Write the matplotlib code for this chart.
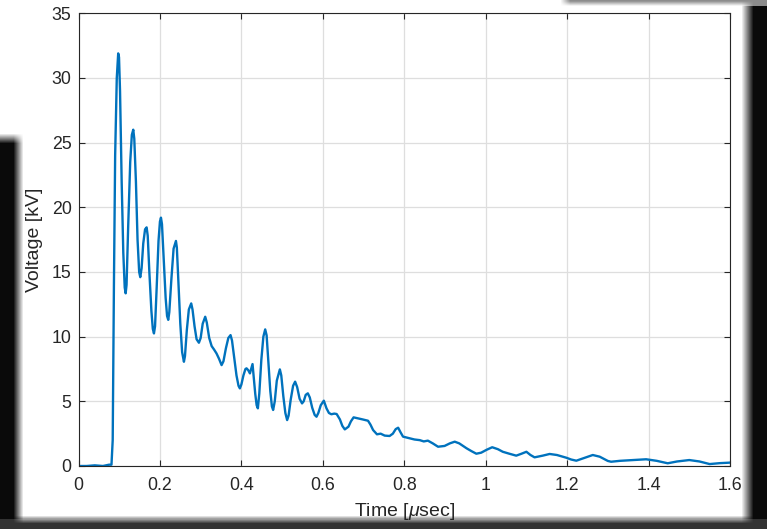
import numpy as np
import matplotlib
matplotlib.use('Agg')
import matplotlib.pyplot as plt

# Impulse voltage record, time in microseconds, voltage in kV
tiempo = [0.0, 0.02, 0.04, 0.06, 0.075, 0.081, 0.084, 0.087, 0.090, 0.094,
          0.0975, 0.0995, 0.102, 0.106, 0.110, 0.1135, 0.1158, 0.118, 0.122, 0.127,
          0.131, 0.1345, 0.137, 0.141, 0.145, 0.149, 0.1517, 0.155, 0.159, 0.1635,
          0.1673, 0.170, 0.174, 0.179, 0.1825, 0.1853, 0.188, 0.192, 0.1965, 0.200,
          0.2025, 0.205, 0.209, 0.214, 0.2175, 0.2204, 0.223, 0.228, 0.2335, 0.2393,
          0.2415, 0.245, 0.250, 0.2545, 0.2589, 0.2615, 0.266, 0.271, 0.2768, 0.280,
          0.285, 0.290, 0.2957, 0.300, 0.305, 0.3112, 0.315, 0.321, 0.327, 0.333,
          0.339, 0.345, 0.3514, 0.356, 0.362, 0.368, 0.3734, 0.377, 0.382, 0.388,
          0.393, 0.3963, 0.400, 0.405, 0.410, 0.4127, 0.417, 0.421, 0.424, 0.4274,
          0.430, 0.434, 0.4375, 0.4405, 0.444, 0.449, 0.454, 0.4585, 0.462, 0.466,
          0.471, 0.475, 0.478, 0.482, 0.487, 0.4945, 0.498, 0.503, 0.508, 0.5124,
          0.516, 0.521, 0.527, 0.532, 0.537, 0.543, 0.549, 0.553, 0.558, 0.5632,
          0.568, 0.574, 0.580, 0.5845, 0.589, 0.595, 0.6025, 0.609, 0.615, 0.621,
          0.628, 0.634, 0.642, 0.648, 0.654, 0.663, 0.669, 0.6756, 0.687, 0.698,
          0.711, 0.717, 0.7235, 0.733, 0.742, 0.752, 0.764, 0.772, 0.779, 0.785,
          0.791, 0.797, 0.8135, 0.825, 0.838, 0.848, 0.858, 0.870, 0.883, 0.899,
          0.912, 0.924, 0.935, 0.953, 0.965, 0.977, 0.989, 1.002, 1.016, 1.030,
          1.042, 1.058, 1.075, 1.088, 1.100, 1.110, 1.120, 1.140, 1.157, 1.175,
          1.198, 1.210, 1.2226, 1.240, 1.263, 1.280, 1.300, 1.308, 1.330, 1.3615,
          1.394, 1.420, 1.447, 1.470, 1.500, 1.525, 1.550, 1.575, 1.600]

voltaje = [0.0, 0.0, 0.05, 0.0, 0.1, 0.1, 2.0, 14.0, 24.0, 30.0,
           31.9, 31.6, 29.0, 22.0, 16.5, 13.8, 13.35, 14.0, 18.5, 23.5,
           25.6, 26.0, 25.3, 22.0, 17.5, 15.0, 14.6, 15.3, 17.2, 18.3,
           18.45, 17.8, 15.0, 12.0, 10.6, 10.25, 10.8, 13.8, 17.4, 18.9,
           19.2, 18.7, 16.2, 13.0, 11.6, 11.3, 11.9, 14.4, 16.8, 17.4,
           16.9, 14.5, 11.0, 8.8, 8.06, 8.5, 10.5, 12.1, 12.57, 12.1,
           10.8, 9.8, 9.53, 9.9, 11.0, 11.54, 11.1, 9.9, 9.27, 9.0,
           8.7, 8.3, 7.8, 8.1, 9.1, 9.9, 10.12, 9.7, 8.5, 7.0,
           6.2, 6.0, 6.3, 7.0, 7.5, 7.55, 7.4, 7.16, 7.5, 7.88,
           7.0, 5.6, 4.7, 4.46, 5.6, 8.2, 10.0, 10.56, 10.1, 8.2,
           5.8, 4.6, 4.33, 5.0, 6.6, 7.47, 7.0, 5.4, 4.1, 3.55,
           3.9, 5.1, 6.2, 6.52, 6.1, 5.2, 4.84, 5.0, 5.5, 5.62,
           5.3, 4.5, 3.95, 3.81, 4.1, 4.7, 5.05, 4.46, 4.1, 4.0,
           4.05, 4.02, 3.6, 3.1, 2.83, 3.04, 3.45, 3.76, 3.68, 3.6,
           3.5, 3.2, 2.78, 2.45, 2.5, 2.35, 2.32, 2.5, 2.85, 2.96,
           2.6, 2.27, 2.14, 2.05, 2.0, 1.9, 1.96, 1.75, 1.49, 1.55,
           1.75, 1.88, 1.75, 1.37, 1.15, 0.95, 1.03, 1.25, 1.45, 1.3,
           1.1, 0.95, 0.8, 0.95, 1.1, 0.85, 0.67, 0.8, 0.93, 0.85,
           0.64, 0.5, 0.41, 0.6, 0.85, 0.72, 0.39, 0.33, 0.4, 0.46,
           0.52, 0.4, 0.21, 0.35, 0.46, 0.35, 0.15, 0.22, 0.26]

xticks = [0, 0.2, 0.4, 0.6, 0.8, 1.0, 1.2, 1.4, 1.6]
xlabels = ['0', '0.2', '0.4', '0.6', '0.8', '1', '1.2', '1.4', '1.6']
yticks = [0, 5, 10, 15, 20, 25, 30, 35]

plt.rcParams['font.family'] = ['Liberation Sans', 'DejaVu Sans']
plt.rcParams['mathtext.fontset'] = 'custom'
plt.rcParams['mathtext.rm'] = 'Liberation Sans'
plt.rcParams['mathtext.it'] = 'Liberation Sans:italic'

W, H = 767, 529
fig = plt.figure(figsize=(W / 100, H / 100), dpi=100)


def rampa(d, w):
    return np.clip(0.5 + d / w, 0.0, 1.0)


# marco oscuro alrededor de la hoja blanca, con bordes difusos
yy, xx = np.mgrid[0:H, 0:W].astype(float)
derecha = rampa(747 - xx, 12)
abajo = rampa(519 - yy, 8)
izq = rampa(18 - xx, 10) * rampa(yy - 138, 10)
arriba = rampa(3 - yy, 5) * rampa(xx - 565, 10)
hoja = derecha * abajo * (1 - izq) * (1 - arriba)
oscuro = np.full((H, W), 0.04)
oscuro[yy > 518] = 0.2
oscuro = np.where(arriba > 0, 0.55, oscuro)
gris = hoja + (1 - hoja) * oscuro
img = np.dstack([gris, gris, gris])

fondo = fig.add_axes([0, 0, 1, 1])
fondo.imshow(img, aspect='auto', interpolation='bilinear')
fondo.axis('off')

ax = fig.add_axes([78.5 / W, 1 - 466 / H, (730 - 78.5) / W, (466 - 13.3) / H])
ax.set_zorder(1)
ax.plot(tiempo, voltaje, color='#0072BD', lw=1.7)

ax.set_xlim(0, 1.6)
ax.set_ylim(0, 35)
ax.set_xticks(xticks)
ax.set_xticklabels(xlabels)
ax.set_yticks(yticks)
ax.grid(True, color='#dedede', lw=0.9)
ax.set_axisbelow(True)
ax.tick_params(direction='in', length=4.5, width=0.8, colors='#262626',
               labelsize=12.8, top=True, right=True)
ax.tick_params(axis='x', pad=8)
ax.tick_params(axis='y', pad=5)
for s in ax.spines.values():
    s.set_color('#262626')
    s.set_linewidth(0.8)

ax.set_xlabel('Time [$\\mu$sec]', fontsize=14, color='#262626', labelpad=5)
ax.set_ylabel('Voltage [kV]', fontsize=14, color='#262626', labelpad=6)

plt.savefig('out.png', dpi=100)
